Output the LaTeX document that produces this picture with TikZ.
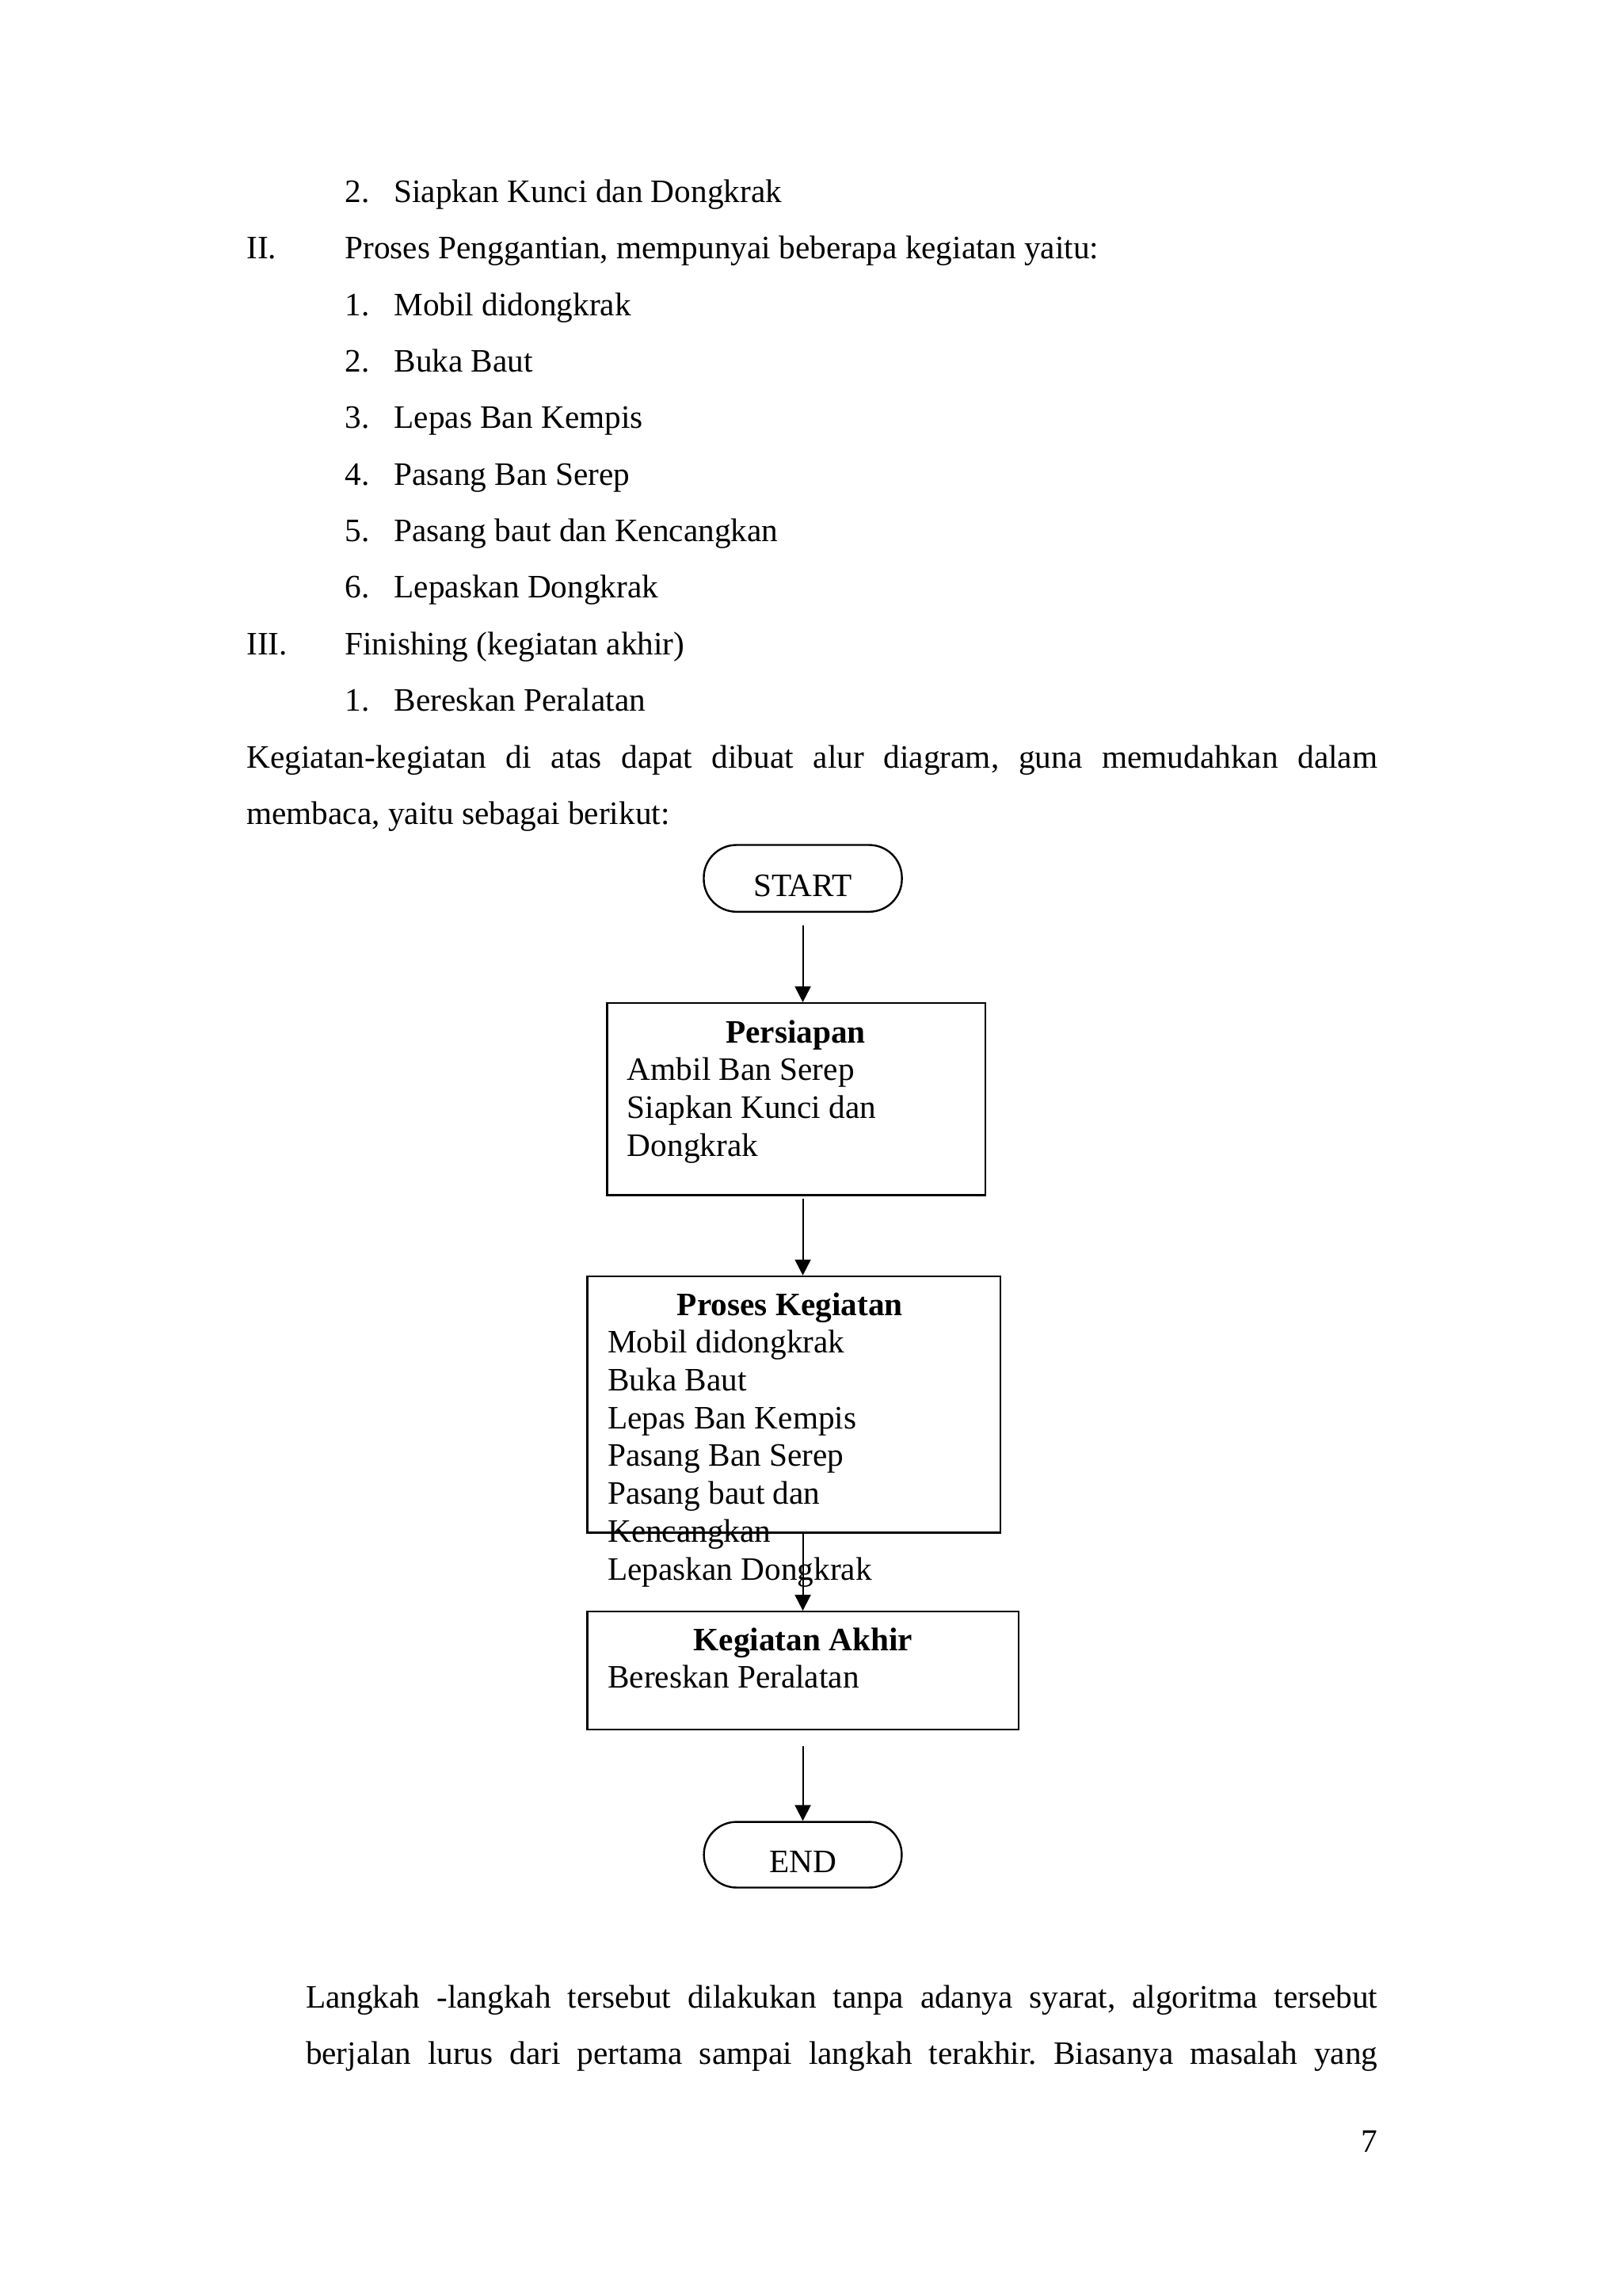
\documentclass[tikz,border=0pt]{standalone}
\usepackage{fontspec}
\setmainfont{Liberation Serif}
\usetikzlibrary{arrows.meta}
\frenchspacing
\begin{document}
\begin{tikzpicture}[x=1pt,y=-1pt,
  txt/.style={inner sep=0pt, anchor=base west, font=\fontsize{12}{13.8}\selectfont},
  ctxt/.style={inner sep=0pt, anchor=base, font=\fontsize{12}{13.8}\selectfont\bfseries},
  procbox/.style={draw, line width=0.7pt, inner sep=0pt, anchor=north west},
  term/.style={draw, line width=0.7pt, rounded corners=12pt, inner sep=0pt, text height=13.1pt, text depth=0pt, font=\fontsize{12}{13.8}\selectfont},
  flow/.style={line width=0.6pt, -{Triangle[width=5.8pt,length=5.8pt]}}
]
\fill[white] (0,0) rectangle (595.28,842.35);
\useasboundingbox (0,0) rectangle (595.28,842.35);

% ---- body text ----
\node[txt] (n0) at (126.4,74.2) {2.};
\node[txt] (l0) at (144.4,74.2) {Siapkan Kunci dan Dongkrak};
\node[txt] (r1) at (90.3,94.95) {II.};
\node[txt] (l1) at (126.4,94.95) {Proses Penggantian, mempunyai beberapa kegiatan yaitu:};
\node[txt] (n2) at (126.4,115.7) {1.};
\node[txt] (l2) at (144.4,115.7) {Mobil didongkrak};
\node[txt] (n3) at (126.4,136.45) {2.};
\node[txt] (l3) at (144.4,136.45) {Buka Baut};
\node[txt] (n4) at (126.4,157.2) {3.};
\node[txt] (l4) at (144.4,157.2) {Lepas Ban Kempis};
\node[txt] (n5) at (126.4,177.95) {4.};
\node[txt] (l5) at (144.4,177.95) {Pasang Ban Serep};
\node[txt] (n6) at (126.4,198.7) {5.};
\node[txt] (l6) at (144.4,198.7) {Pasang baut dan Kencangkan};
\node[txt] (n7) at (126.4,219.45) {6.};
\node[txt] (l7) at (144.4,219.45) {Lepaskan Dongkrak};
\node[txt] (r8) at (90.3,240.2) {III.};
\node[txt] (l8) at (126.4,240.2) {Finishing (kegiatan akhir)};
\node[txt] (n9) at (126.4,260.95) {1.};
\node[txt] (l9) at (144.4,260.95) {Bereskan Peralatan};
\node[txt] (p1) at (90.3,281.7) {\makebox[415pt][s]{Kegiatan-kegiatan di atas dapat dibuat alur diagram, guna memudahkan dalam}};
\node[txt] (p2) at (90.3,302.45) {membaca, yaitu sebagai berikut:};

% ---- flowchart ----
\node[term, minimum width=72.7pt, minimum height=24.5pt] (start) at (294.6,322.25) {START};

\node[procbox, minimum width=138.8pt, minimum height=70.4pt] (persiapan) at (222.4,367.7) {};
\node[ctxt] (persiapanT) at (292.0,382.6) {Persiapan};
\node[txt] (pa) at (230.0,396.4) {Ambil Ban Serep};
\node[txt] (pb) at (230.0,410.3) {Siapkan Kunci dan};
\node[txt] (pc) at (230.0,424.1) {Dongkrak};

\node[procbox, minimum width=151.5pt, minimum height=94.0pt] (proses) at (215.2,467.9) {};
\node[ctxt] (prosesT) at (289.9,482.6) {Proses Kegiatan};
\node[txt] (qa) at (222.8,496.3) {Mobil didongkrak};
\node[txt] (qb) at (222.8,510.2) {Buka Baut};
\node[txt] (qc) at (222.8,524.1) {Lepas Ban Kempis};
\node[txt] (qd) at (222.8,538.0) {Pasang Ban Serep};
\node[txt] (qe) at (222.8,551.9) {Pasang baut dan};
\node[txt] (qf) at (222.8,565.8) {Kencangkan};
\node[txt] (qg) at (222.8,579.7) {Lepaskan Dongkrak};

\node[procbox, minimum width=158.3pt, minimum height=43.3pt] (akhir) at (215.2,590.9) {};
\node[ctxt] (akhirT) at (294.7,605.6) {Kegiatan Akhir};
\node[txt] (ka) at (222.8,619.4) {Bereskan Peralatan};

\node[term, minimum width=72.6pt, minimum height=24.1pt] (endT) at (294.6,680.45) {END};

\draw[flow, shorten <=4.6pt] (start.south) -- (start.south |- persiapan.north);
\draw[flow, shorten <=1pt] (persiapan.south -| start.south) -- (proses.north -| start.south);
\draw[flow] (proses.south -| start.south) -- (akhir.north -| start.south);
\draw[flow, shorten <=5.6pt] (akhir.south -| start.south) -- (endT.north);

% ---- bottom text ----
\node[txt] (b1) at (112,736.6) {\makebox[393.3pt][s]{Langkah -langkah tersebut dilakukan tanpa adanya syarat, algoritma tersebut}};
\node[txt] (b2) at (112,757.35) {\makebox[393.3pt][s]{berjalan lurus dari pertama sampai langkah terakhir. Biasanya masalah yang}};
\node[inner sep=0pt, anchor=base east, font=\fontsize{12}{13.8}\selectfont] (pg) at (505.6,789.6) {7};
\end{tikzpicture}
\end{document}
